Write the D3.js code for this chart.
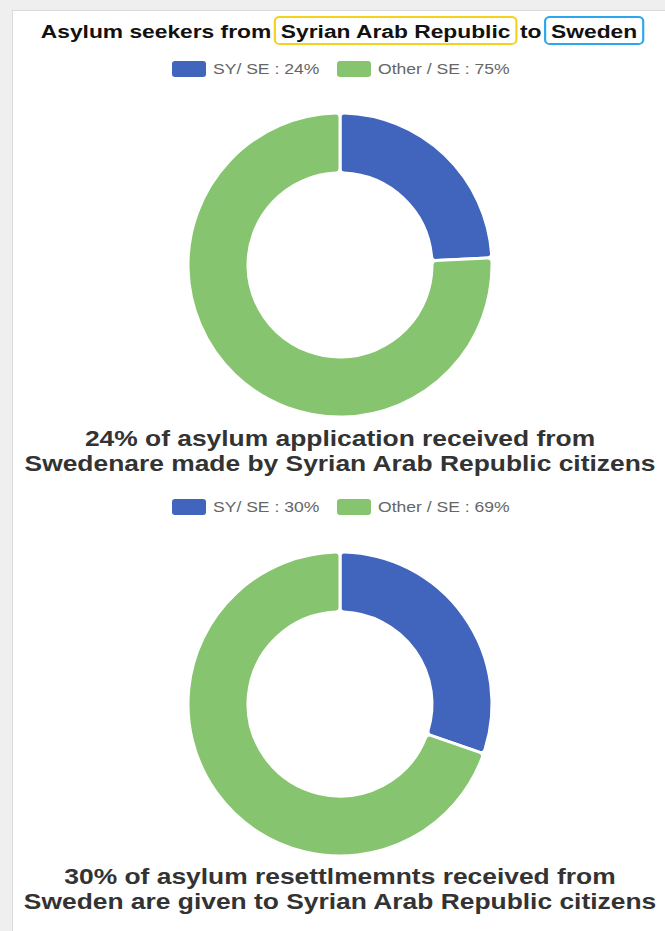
<!DOCTYPE html>
<html>
<head>
<meta charset="utf-8">
<script src="https://cdn.jsdelivr.net/npm/d3@7"></script>
<style>
  html, body { margin: 0; padding: 0; background: #efefef; }
  svg { display: block; font-family: "Liberation Sans", Arial, Helvetica, sans-serif; }
</style>
</head>
<body>
<div id="chart"></div>
<script>
// data
const categories = ["SY/ SE", "Other / SE"]
const applicationShares = [24, 75]
const resettlementShares = [30, 69]
const sliceColors = ["#4165bd", "#86c46f"]
const titleParts = ["Asylum seekers from", "Syrian Arab Republic", "to", "Sweden"]
const applicationCaption = [
    "24% of asylum application received from",
    "Swedenare made by Syrian Arab Republic citizens",
]
const resettlementCaption = [
    "30% of asylum resettlmemnts received from",
    "Sweden are given to Syrian Arab Republic citizens",
]

const width = 665
const height = 931
const cx = 340
// the source picture is stretched a bit horizontally
const stretch = 1.2

const svg = d3.select("#chart")
    .append("svg")
    .attr("width", width)
    .attr("height", height)

// panel
svg.append("rect")
    .attr("x", 12.5)
    .attr("y", 10.5)
    .attr("width", width)
    .attr("height", height)
    .attr("fill", "#fff")
    .attr("stroke", "#d9d9d9")

// title with highlighted country names
const drawTitle = (parts, y) => {
    const g = svg.append("g")
        .attr("transform", `translate(${cx + 2},0) scale(${stretch},1)`)
    const gap = 3
    const pad = 5
    const items = parts.map((t, i) => {
        const el = g.append("text")
            .attr("y", y)
            .attr("font-size", 19)
            .attr("font-weight", "bold")
            .attr("fill", "#111")
            .text(t)
        const w = el.node().getComputedTextLength()
        const boxed = i === 1 || i === 3
        return { el, w, boxed, stroke: i === 1 ? "#f3d31b" : "#2aa7ee" }
    })
    const total = d3.sum(items, (d) => d.w + (d.boxed ? pad * 2 : 0)) + gap * (items.length - 1)
    let x = -total / 2
    items.forEach((d) => {
        if (d.boxed) {
            g.insert("rect", "text")
                .attr("x", x)
                .attr("y", y - 21)
                .attr("width", d.w + pad * 2)
                .attr("height", 27)
                .attr("rx", 4)
                .attr("fill", "none")
                .attr("stroke", d.stroke)
                .attr("stroke-width", 1.8)
            d.el.attr("x", x + pad)
            x += d.w + pad * 2 + gap
        } else {
            d.el.attr("x", x)
            x += d.w + gap
        }
    })
}

const drawLegend = (values, y) => {
    const g = svg.append("g")
    const xs = [172, 337]
    values.forEach((v, i) => {
        g.append("rect")
            .attr("x", xs[i])
            .attr("y", y - 8)
            .attr("width", 34)
            .attr("height", 16)
            .attr("rx", 3)
            .attr("fill", sliceColors[i])
        g.append("text")
            .attr("transform", `translate(${xs[i] + 41},${y + 5}) scale(1.17,1)`)
            .attr("font-size", 15)
            .attr("fill", "#666")
            .text(`${categories[i]} : ${v}%`)
    })
}

const drawDonut = (values, cy) => {
    const pie = d3.pie().sort(null).value((d) => d)
    const arc = d3.arc()
        .innerRadius(92)
        .outerRadius(152)
        .cornerRadius(4)

    svg.append("g")
        .attr("transform", `translate(${cx},${cy})`)
        .selectAll("path")
        .data(pie(values))
        .enter()
        .append("path")
            .attr("d", arc)
            .attr("fill", (d, i) => sliceColors[i])
            .attr("stroke", "#fff")
            .attr("stroke-width", 3)
            .attr("stroke-linejoin", "round")
}

const drawCaption = (lines, y) => {
    svg.append("text")
        .attr("transform", `translate(${cx},0) scale(${stretch},1)`)
        .attr("text-anchor", "middle")
        .attr("font-size", 22)
        .attr("font-weight", "bold")
        .attr("fill", "#333")
        .selectAll("tspan")
        .data(lines)
        .enter()
        .append("tspan")
            .attr("x", 0)
            .attr("y", (d, i) => y + i * 25)
            .text((d) => d)
}

drawTitle(titleParts, 38)
drawLegend(applicationShares, 69)
drawDonut(applicationShares, 265)
drawCaption(applicationCaption, 446)
drawLegend(resettlementShares, 507)
drawDonut(resettlementShares, 704)
drawCaption(resettlementCaption, 884)
</script>
</body>
</html>
